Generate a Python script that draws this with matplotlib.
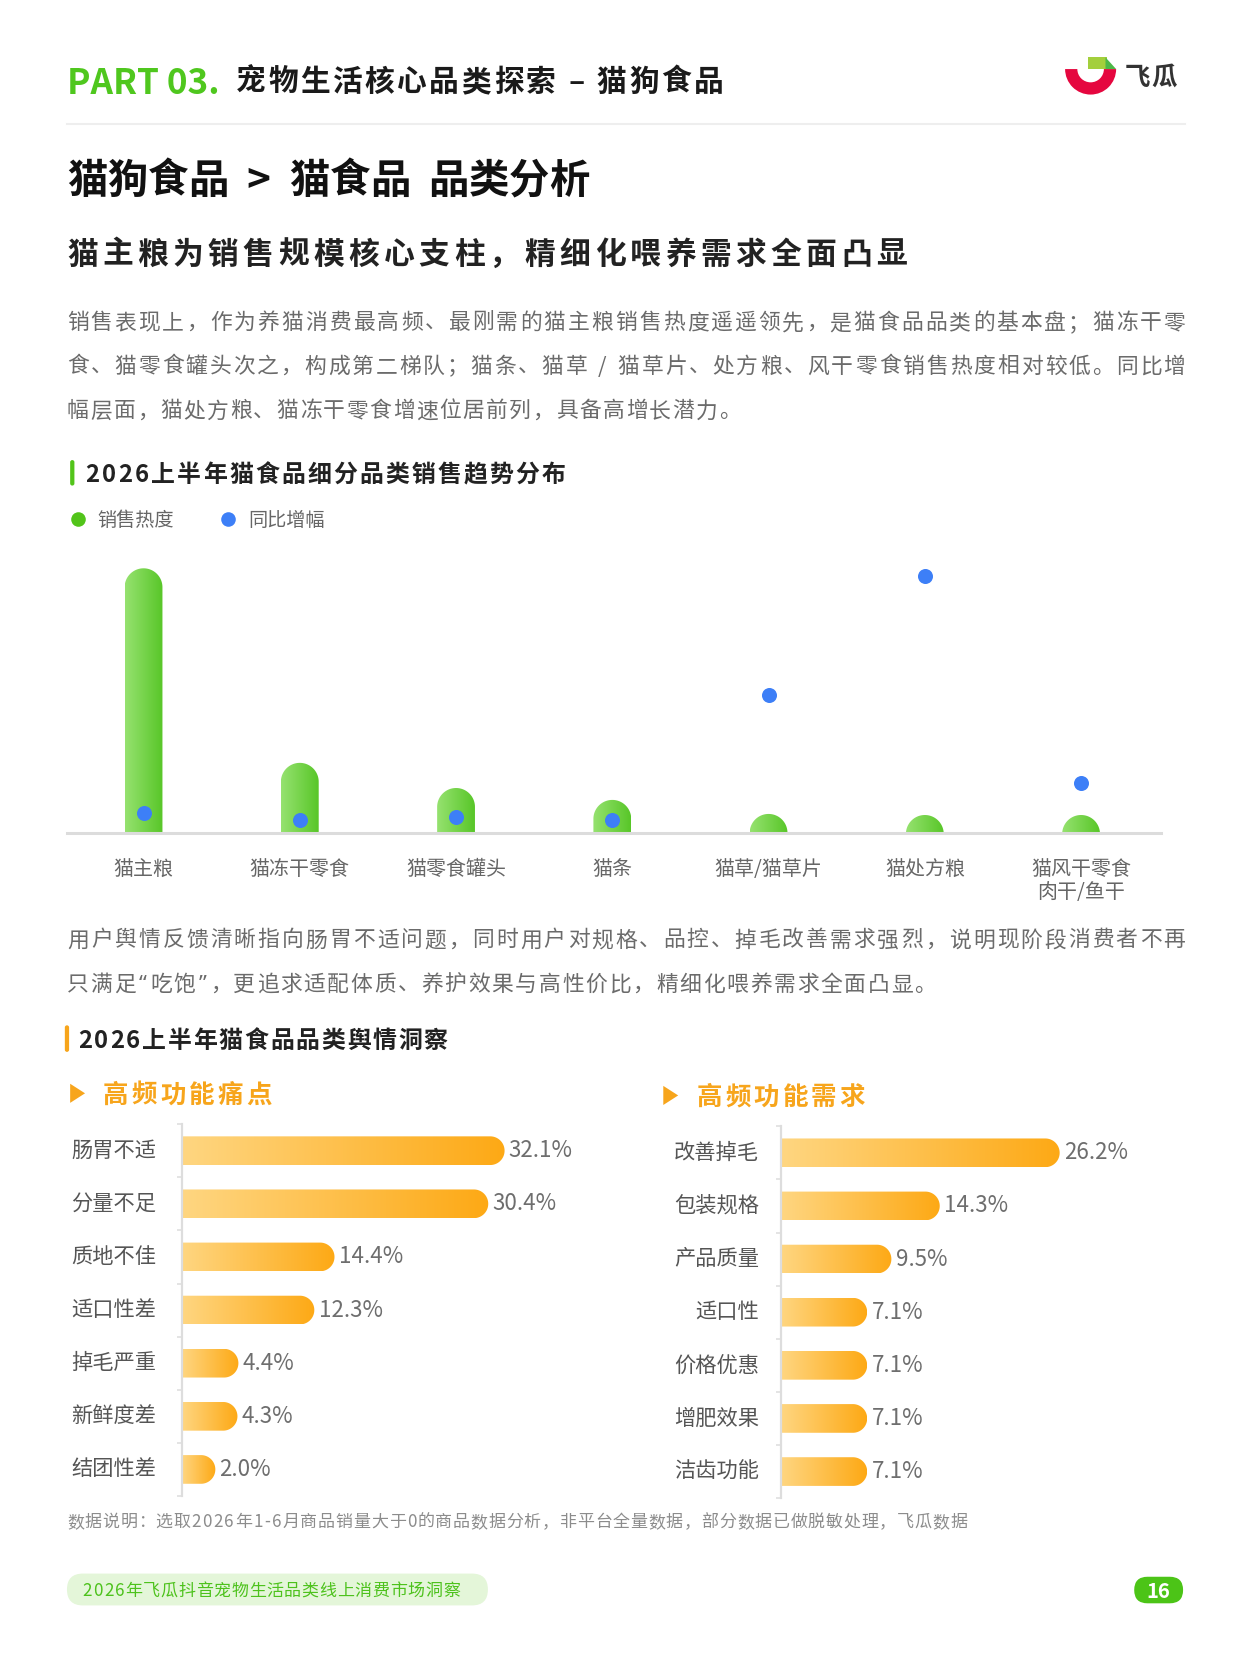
import numpy as np
import matplotlib
matplotlib.use('Agg')
import matplotlib.pyplot as plt
from matplotlib.path import Path
from matplotlib.patches import PathPatch, FancyBboxPatch, Wedge, Polygon
from matplotlib.lines import Line2D
from matplotlib.colors import LinearSegmentedColormap

FAM = ['Noto Sans CJK SC', 'DejaVu Sans']
plt.rcParams['font.family'] = FAM

# ---- data ----
trend_cats = ['猫主粮', '猫冻干零食', '猫零食罐头', '猫条', '猫草/猫草片', '猫处方粮', '猫风干零食\n肉干/鱼干']
sales_heat = [100, 26.5, 17.0, 12.5, 7.2, 6.8, 6.8]
yoy_growth = [7.6, 4.9, 6.1, 4.9, 52.3, 97.0, 18.9]

pain_labels = ['肠胃不适', '分量不足', '质地不佳', '适口性差', '掉毛严重', '新鲜度差', '结团性差']
pain_values = [32.1, 30.4, 14.4, 12.3, 4.4, 4.3, 2.0]

need_labels = ['改善掉毛', '包装规格', '产品质量', '适口性', '价格优惠', '增肥效果', '洁齿功能']
need_values = [26.2, 14.3, 9.5, 7.1, 7.1, 7.1, 7.1]

para1 = ['销售表现上，作为养猫消费最高频、最刚需的猫主粮销售热度遥遥领先，是猫食品品类的基本盘；猫冻干零',
         '食、猫零食罐头次之，构成第二梯队；猫条、猫草 / 猫草片、处方粮、风干零食销售热度相对较低。同比增',
         '幅层面，猫处方粮、猫冻干零食增速位居前列，具备高增长潜力。']
para2 = ['用户舆情反馈清晰指向肠胃不适问题，同时用户对规格、品控、掉毛改善需求强烈，说明现阶段消费者不再',
         '只满足“吃饱”，更追求适配体质、养护效果与高性价比，精细化喂养需求全面凸显。']
note = '数据说明：选取2026年1-6月商品销量大于0的商品数据分析，非平台全量数据，部分数据已做脱敏处理，飞瓜数据'

GREEN = '#4FC71E'
BLUE = '#3D7FF7'
ORANGE = '#F7A51C'

W, H = 1175, 1568          # page units
PT = 1249 / W * 0.72       # points per page unit

fig = plt.figure(figsize=(12.49, 16.66), dpi=100)
page = fig.add_axes([0, 0, 1, 1])
page.set_xlim(0, W)
page.set_ylim(H, 0)
page.axis('off')


def adv(ch):
    if ch in '“”':
        return 0.5
    if ord(ch) >= 0x2E80 or ch in '，。；、：！？（）':
        return 1.0
    if ch == ' ':
        return 0.33
    if ch.isdigit():
        return 0.6
    if ch in '.,:;':
        return 0.28
    if ch == '%':
        return 0.86
    if ch == '/':
        return 0.38
    if ch in '-–':
        return 0.4
    if ch.isupper():
        return 0.66
    return 0.52


def put(x, y, s, em, color, weight='normal', track=0.0, width=None, ha='left'):
    # place text char by char so letter spacing can be matched
    ws = [adv(c) * em for c in s]
    if width is not None and len(s) > 1:
        track = (width - sum(ws)) / (len(s) - 1)
    total = sum(ws) + track * (len(s) - 1)
    if ha == 'center':
        x -= total / 2
    elif ha == 'right':
        x -= total
    base = y + 0.38 * em
    cx = x
    for c, w in zip(s, ws):
        if c != ' ':
            fam = ['Noto Sans', 'DejaVu Sans'] if c in '“”' else FAM
            page.text(cx + w / 2, base, c, ha='center', va='baseline',
                      fontsize=em * PT, color=color, weight=weight, family=fam)
        cx += w + track
    return track


def frac(x0, y0, x1, y1):
    return [x0 / W, 1 - y1 / H, (x1 - x0) / W, (y1 - y0) / H]


def px_scale(ax):
    pos = ax.get_position()
    xr, yr = ax.get_xlim(), ax.get_ylim()
    return pos.width * 1249 / abs(xr[1] - xr[0]), pos.height * 1666 / abs(yr[1] - yr[0])


# ---- header ----
page.text(63, 88, 'PART 03.', fontsize=33 * PT, color=GREEN, weight='heavy', family=FAM)
put(222, 75, '宠物生活核心品类探索 – 猫狗食品', 28, '#1A1A1A', 'bold', track=2.3)

# logo
page.add_patch(Wedge((1026, 65), 24, 0, 180, width=11.5, fc='#E5073F', ec='none'))
page.add_patch(Polygon([(1024, 54), (1041, 54), (1041, 65), (1024, 65)], fc='#A3CF3C', ec='none'))
page.add_patch(Polygon([(1040, 54), (1050, 65), (1040, 65)], fc='#4DB848', ec='none'))
put(1058, 71, '飞瓜', 24, '#333333', 'bold', track=1)

page.plot([63, 1115], [117, 117], color='#EEEEEE', lw=1.5)

# ---- titles ----
put(63, 167, '猫狗食品', 38, '#111111', 'heavy')
put(233, 167, '>', 38, '#111111', 'heavy')
put(272, 167, '猫食品', 38, '#111111', 'heavy')
put(403, 167, '品类分析', 38, '#111111', 'heavy')
put(63, 237, '猫主粮为销售规模核心支柱，精细化喂养需求全面凸显', 29, '#222222', 'bold', track=4.1)

TEXT_GREY = '#6B6B6B'
put(63, 302, para1[0], 20.5, TEXT_GREY, width=1052)
put(63, 343, para1[1], 20.5, TEXT_GREY, width=1052)
put(63, 385, para1[2], 20.5, TEXT_GREY, track=1.4)

# ---- chart 1 ----
page.add_patch(FancyBboxPatch((66, 433), 4, 24, boxstyle='round,pad=0,rounding_size=2',
                              fc='#52C41A', ec='none'))
put(80, 445, '2026上半年猫食品细分品类销售趋势分布', 22.5, '#222222', 'bold', track=2.0)

green_cm = LinearSegmentedColormap.from_list('g', ['#96E270', '#58C628'])
orange_cm = LinearSegmentedColormap.from_list('o', ['#FFD681', '#FDA915'])
grad = np.linspace(0, 1, 256).reshape(1, -1)

ax1 = fig.add_axes(frac(63, 500, 1092, 784))
ax1.patch.set_visible(False)
ax1.set_xlim(-0.49, 6.51)
ax1.set_ylim(0, 114)
sx, sy = px_scale(ax1)
bw = 0.242
rx = bw / 2
ry = rx * sx / sy
t = np.linspace(np.pi, 0, 60)
for i, v in enumerate(sales_heat):
    cy = v - ry
    b = min(0, cy)
    verts = [(i - rx, b), (i - rx, cy)] + list(zip(i + rx * np.cos(t), cy + ry * np.sin(t))) \
        + [(i + rx, cy), (i + rx, b), (i - rx, b)]
    codes = [Path.MOVETO] + [Path.LINETO] * (len(verts) - 2) + [Path.CLOSEPOLY]
    patch = PathPatch(Path(verts, codes), fc='none', ec='none')
    ax1.add_patch(patch)
    im = ax1.imshow(grad, extent=(i - rx, i + rx, b, v), cmap=green_cm, aspect='auto',
                    interpolation='bilinear', zorder=2)
    im.set_clip_path(patch)
ax1.scatter(range(len(yoy_growth)), yoy_growth, s=117, color=BLUE, linewidths=0,
            zorder=5, clip_on=False)
ax1.set_xlim(-0.49, 6.51)
ax1.set_ylim(0, 114)
for s in ['top', 'right', 'left']:
    ax1.spines[s].set_visible(False)
ax1.spines['bottom'].set_color('#DCDCDC')
ax1.spines['bottom'].set_linewidth(2.2)
ax1.set_yticks([])
ax1.set_xticks(range(len(trend_cats)))
ax1.set_xticklabels(trend_cats, fontsize=18.8 * PT, color='#666666', linespacing=1.15)
ax1.tick_params(axis='x', length=0, pad=18.5)

handles = [Line2D([], [], ls='none', marker='o', ms=10.5, color='#52C41A', mec='none'),
           Line2D([], [], ls='none', marker='o', ms=10.5, color=BLUE, mec='none')]
fig.legend(handles, ['销售热度', '同比增幅'], loc='center left', bbox_to_anchor=(64 / W, 1 - 490 / H),
           ncol=2, frameon=False, fontsize=18 * PT, handlelength=1.0, handletextpad=0.55,
           columnspacing=2.3, borderpad=0, borderaxespad=0, labelcolor='#666666')

# ---- paragraph 2 ----
put(63, 883, para2[0], 20.5, TEXT_GREY, width=1052)
put(63, 925, para2[1], 20.5, TEXT_GREY, track=1.6)

# ---- chart 2 ----
page.add_patch(FancyBboxPatch((61, 965), 4, 25, boxstyle='round,pad=0,rounding_size=2',
                              fc=ORANGE, ec='none'))
put(73, 978, '2026上半年猫食品品类舆情洞察', 22.5, '#222222', 'bold', track=1.6)

page.add_patch(Polygon([(66, 1020), (66, 1038), (80, 1029)], fc=ORANGE, ec='none'))
put(97, 1029, '高频功能痛点', 24, ORANGE, 'bold', track=3)
page.add_patch(Polygon([(624, 1022), (624, 1040), (638, 1031)], fc=ORANGE, ec='none'))
put(655, 1031, '高频功能需求', 24, ORANGE, 'bold', track=3)


def hbar_chart(x0, y0, x1, y1, labels, values, scale, label_x, label_ha):
    ax = fig.add_axes(frac(x0, y0, x1, y1))
    ax.patch.set_visible(False)
    n = len(values)
    xmax = (x1 - x0) / scale
    ax.set_xlim(0, xmax)
    ax.set_ylim(n - 0.5, -0.5)
    sx, sy = px_scale(ax)
    h = 0.54
    ry = h / 2
    rx = ry * sy / sx
    t = np.linspace(-np.pi / 2, np.pi / 2, 60)
    for i, v in enumerate(values):
        verts = [(0, i - ry), (v, i - ry)] + list(zip(v + rx * np.cos(t), i + ry * np.sin(t))) \
            + [(v, i + ry), (0, i + ry), (0, i - ry)]
        codes = [Path.MOVETO] + [Path.LINETO] * (len(verts) - 2) + [Path.CLOSEPOLY]
        patch = PathPatch(Path(verts, codes), fc='none', ec='none')
        ax.add_patch(patch)
        im = ax.imshow(grad, extent=(0, v + rx, i + ry, i - ry), cmap=orange_cm, aspect='auto',
                       interpolation='bilinear', zorder=2)
        im.set_clip_path(patch)
        ax.text(v + rx + 4 / scale, i, f'{v:.1f}%', ha='left', va='center',
                fontsize=21 * PT, color='#6E6E6E')
        ax.text((label_x - x0) / (x1 - x0), i, labels[i], transform=ax.get_yaxis_transform(),
                ha=label_ha, va='center', fontsize=20 * PT, color='#555555')
    ax.set_xlim(0, xmax)
    ax.set_ylim(n - 0.5, -0.5)
    for s in ['top', 'right', 'bottom']:
        ax.spines[s].set_visible(False)
    ax.spines['left'].set_color('#DDDDDD')
    ax.spines['left'].set_linewidth(1.6)
    ax.set_xticks([])
    ax.set_yticks(np.arange(-0.5, n, 1))
    ax.set_yticklabels([])
    ax.tick_params(axis='y', length=3.8, width=1.1, color='#DDDDDD')
    return ax


hbar_chart(171, 1058, 620, 1408, pain_labels, pain_values, 9.04, 67, 'left')
hbar_chart(735, 1060, 1160, 1410, need_labels, need_values, 9.48, 714, 'right')

# ---- footer ----
put(63, 1431, note, 16, '#8C8C8C', track=0.7)
page.add_patch(FancyBboxPatch((63, 1481), 396, 30, boxstyle='round,pad=0,rounding_size=15',
                              fc='#E4F6D9', ec='none'))
put(77, 1496, '2026年飞瓜抖音宠物生活品类线上消费市场洞察', 16, '#4DC21C', track=0.6)
page.add_patch(FancyBboxPatch((1067, 1484), 46, 25, boxstyle='round,pad=0,rounding_size=12.5',
                              fc='#4CC417', ec='none'))
page.text(1090, 1497 + 0.36 * 19, '16', ha='center', va='baseline', fontsize=19 * PT,
          color='white', weight='heavy', family=FAM)

fig.savefig('out.png', dpi=100, facecolor='white')
